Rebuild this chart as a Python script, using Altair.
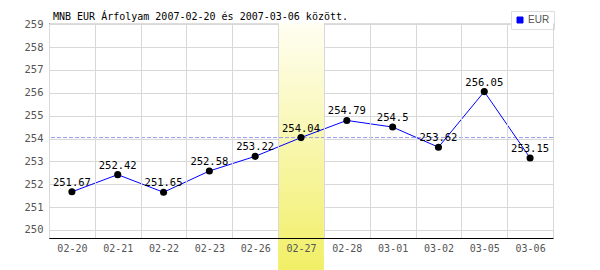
import altair as alt
import pandas as pd

dates = ["02-20", "02-21", "02-22", "02-23", "02-26", "02-27",
         "02-28", "03-01", "03-02", "03-05", "03-06"]
rates = [251.67, 252.42, 251.65, 252.58, 253.22, 254.04,
         254.79, 254.5, 253.62, 256.05, 253.15]
series = ["EUR"] * len(dates)
highlight_day = ["02-27"]
reference_rate = [254.04]
y_ticks = [250, 251, 252, 253, 254, 255, 256, 257, 258, 259]
title_text = "MNB EUR Árfolyam 2007-02-20 és 2007-03-06 között."

df = pd.DataFrame({"date": dates, "rate": rates, "series": series,
                   "label": [f"{v:g}" for v in rates]})
hl = pd.DataFrame({"date": highlight_day})
ref = pd.DataFrame({"rate": reference_rate})

MONO = "DejaVu Sans Mono"

xscale = alt.Scale(domain=dates, paddingInner=0, paddingOuter=0)
yscale = alt.Scale(domain=[249.65, 259.05], nice=False, zero=False)

xaxis = alt.Axis(title=None, ticks=False, tickBand="extent", grid=True,
                 gridColor="#d8d8d8", domainColor="#000000", labelColor="#555555",
                 labelFont=MONO, labelFontSize=10, labelPadding=5, labelAngle=0,
                 labelOverlap=False)
yaxis = alt.Axis(title=None, ticks=False, values=y_ticks, tickCount=10, grid=True,
                 gridColor="#d8d8d8", domainColor="#000000", labelColor="#555555",
                 labelFont=MONO, labelFontSize=10.5, labelPadding=6, labelOverlap=False,
                 labelSeparation=0)

band = alt.Chart(hl).mark_rect(
    clip=False,
    color=alt.LinearGradient(
        gradient="linear", x1=0, y1=0, x2=0, y2=1,
        stops=[alt.GradientStop(color="#fffef2", offset=0),
               alt.GradientStop(color="#f1ef66", offset=1)])
).encode(
    x=alt.X("date:N", scale=xscale, axis=xaxis, sort=dates),
    y=alt.value(0), y2=alt.value(247)
)

rule = alt.Chart(ref).mark_rule(color="#9999ee", strokeDash=[4, 2], strokeWidth=1).encode(
    y=alt.Y("rate:Q", scale=yscale, axis=yaxis)
)

line = alt.Chart(df).mark_line(strokeWidth=1).encode(
    x=alt.X("date:N", scale=xscale, sort=dates),
    y=alt.Y("rate:Q", scale=yscale),
    color=alt.Color("series:N", scale=alt.Scale(domain=["EUR"], range=["#0000ff"]),
                    legend=alt.Legend(
                        title=None, orient="none", legendX=462, legendY=-12,
                        symbolType="square", symbolSize=36, symbolStrokeColor="#000033",
                        symbolStrokeWidth=1, symbolFillColor="#0000ff",
                        fillColor="#ffffff", strokeColor="#dddddd", padding=4,
                        labelFont="Liberation Sans", labelFontSize=10, labelColor="#555555",
                        labelOffset=3))
)

points = alt.Chart(df).mark_point(filled=True, size=50, color="#000000", opacity=1).encode(
    x=alt.X("date:N", scale=xscale, sort=dates),
    y=alt.Y("rate:Q", scale=yscale)
)

labels = alt.Chart(df).mark_text(font=MONO, fontSize=10.5, color="#000000",
                                 baseline="alphabetic", dy=-6).encode(
    x=alt.X("date:N", scale=xscale, sort=dates),
    y=alt.Y("rate:Q", scale=yscale),
    text="label:N"
)

chart = alt.layer(band, rule, line, points, labels).properties(
    width=504, height=215,
    title=alt.TitleParams(title_text, anchor="start", frame="group", dx=4, dy=15, offset=4,
                          font=MONO, fontSize=10, fontWeight="normal", color="#000000"),
    autosize=alt.AutoSizeParams(type="none"),
    padding={"left": 49, "top": 23, "right": 47, "bottom": 32}
).configure_view(stroke=None).configure(background="#ffffff")

chart.save("out.html", embed_options={"renderer": "svg", "actions": False})
